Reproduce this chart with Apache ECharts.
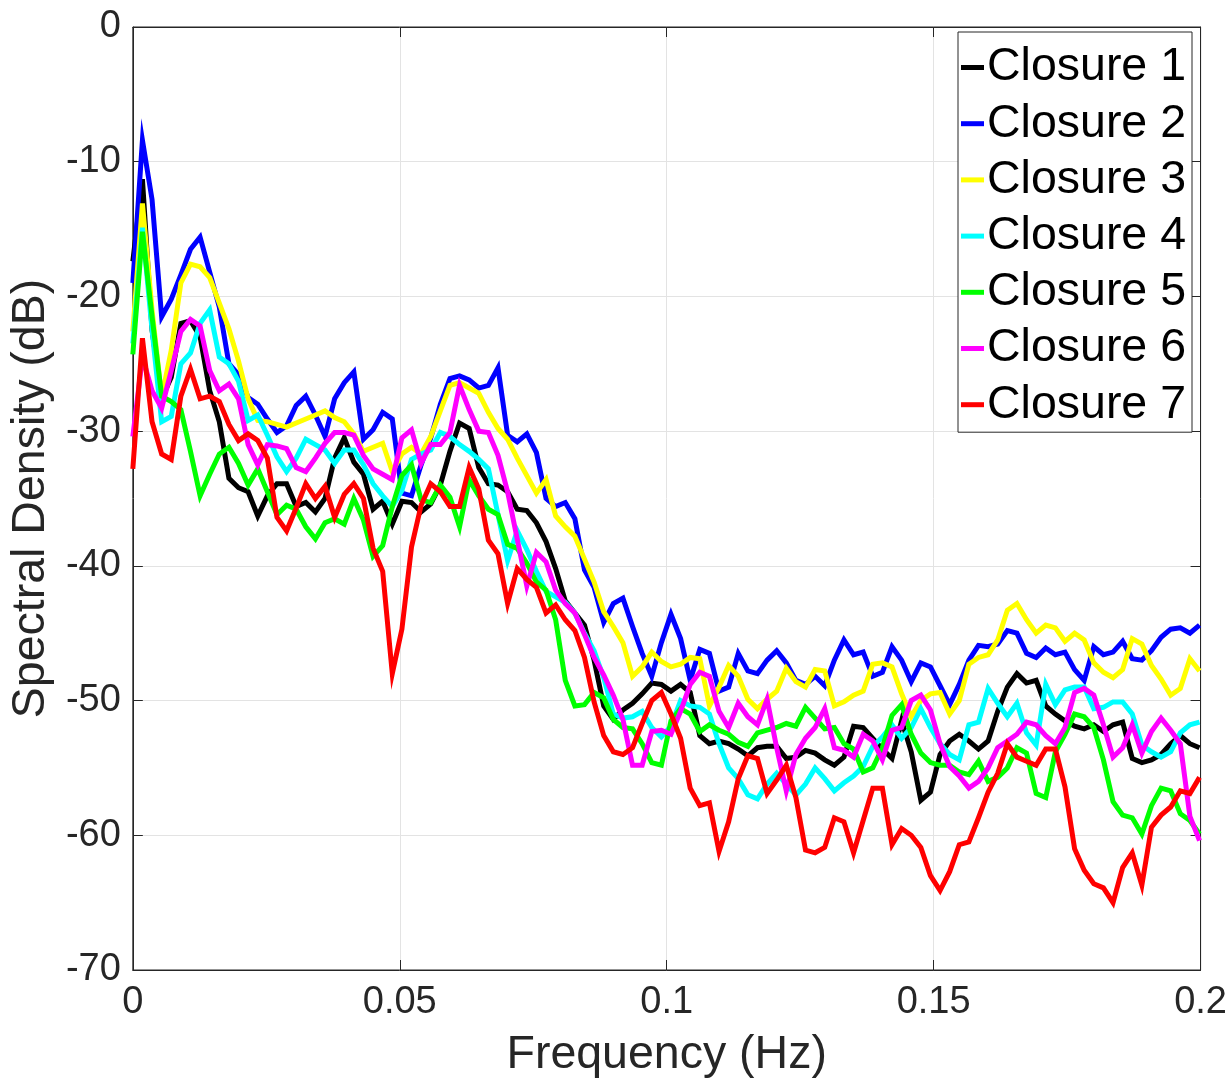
<!DOCTYPE html>
<html>
<head>
<meta charset="utf-8">
<script src="https://cdn.jsdelivr.net/npm/echarts@6/dist/echarts.min.js"></script>
<style>
html,body{margin:0;padding:0;background:#fff;}
#chart{width:1230px;height:1088px;}
</style>
</head>
<body>
<div id="chart"></div>
<script>
// Frequency grid step (Hz) of the spectral estimate
const FREQ_STEP = 0.0018;
const seriesNames = ['Closure 1','Closure 2','Closure 3','Closure 4','Closure 5','Closure 6','Closure 7'];
const seriesColors = ['#000000','#0000ff','#ffff00','#00ffff','#00ff00','#ff00ff','#ff0000'];
const xTicks = [0, 0.05, 0.1, 0.15, 0.2];
const yTicks = [-70, -60, -50, -40, -30, -20, -10, 0];

const closure1 = [
-17.4,-11.3,-22.5,-27.6,-26.0,-22.0,-21.8,-23.0,-27.0,-29.3,
-33.5,-34.2,-34.5,-36.3,-34.8,-33.9,-33.9,-35.6,-35.3,-36.0,
-35.0,-32.0,-30.5,-32.3,-33.2,-35.8,-35.2,-36.9,-35.2,-35.3,
-36.0,-35.4,-34.0,-31.5,-29.4,-29.8,-32.7,-33.9,-34.0,-34.5,
-35.8,-35.9,-36.8,-38.2,-40.2,-42.6,-43.5,-44.4,-47.0,-50.4,
-51.4,-50.7,-50.2,-49.5,-48.7,-48.8,-49.3,-48.8,-49.4,-52.6,
-53.2,-53.0,-53.2,-53.6,-54.1,-53.5,-53.4,-53.4,-54.3,-54.2,
-53.7,-53.9,-54.4,-54.8,-54.2,-51.9,-52.0,-52.8,-53.6,-54.3,
-51.5,-53.8,-57.4,-56.8,-54.0,-53.0,-52.5,-53.0,-53.6,-53.0,
-50.8,-49.0,-48.0,-48.7,-48.5,-50.4,-51.0,-51.5,-51.9,-52.1,
-51.8,-52.3,-51.8,-51.6,-54.3,-54.6,-54.4,-54.0,-53.2,-52.6,
-53.2,-53.5];
const closure2 = [
-19.0,-8.4,-12.8,-21.5,-20.2,-18.4,-16.5,-15.6,-18.2,-20.8,
-25.0,-25.8,-27.5,-28.0,-29.1,-30.1,-29.6,-28.1,-27.4,-28.8,
-30.4,-27.6,-26.4,-25.6,-30.6,-29.9,-28.6,-29.1,-34.6,-34.8,
-32.5,-30.5,-28.0,-26.1,-25.9,-26.2,-26.8,-26.6,-25.3,-30.3,
-30.8,-30.2,-31.6,-35.0,-35.6,-35.3,-36.5,-40.3,-41.6,-44.2,
-42.8,-42.4,-44.5,-46.5,-48.2,-45.7,-43.6,-45.4,-48.5,-46.2,
-46.5,-49.3,-49.0,-46.5,-47.8,-48.0,-47.0,-46.3,-47.2,-48.5,
-48.8,-48.2,-48.9,-47.0,-45.5,-46.6,-46.4,-48.2,-47.9,-46.0,
-47.0,-48.6,-47.2,-47.5,-48.9,-50.3,-48.8,-47.0,-45.9,-46.0,
-45.8,-44.8,-45.0,-46.5,-46.8,-46.1,-46.6,-46.4,-47.7,-48.5,
-46.0,-46.6,-46.4,-45.6,-46.9,-47.0,-46.3,-45.3,-44.7,-44.6,
-45.0,-44.4];
const closure3 = [
-22.6,-13.1,-21.0,-27.5,-24.0,-19.0,-17.6,-17.8,-18.6,-20.5,
-22.4,-24.8,-27.6,-29.2,-29.3,-29.5,-29.7,-29.4,-29.1,-28.8,
-28.5,-29.0,-29.3,-30.2,-31.5,-31.2,-30.9,-33.0,-31.7,-31.2,
-31.7,-30.4,-28.5,-26.6,-26.4,-26.8,-27.2,-28.6,-29.8,-30.6,
-32.0,-33.3,-34.6,-33.6,-36.3,-37.1,-37.8,-39.5,-41.2,-43.4,
-44.5,-45.7,-48.2,-47.5,-46.4,-47.1,-47.5,-47.3,-46.8,-46.9,
-50.4,-49.0,-47.4,-48.2,-49.9,-50.6,-49.9,-49.3,-47.6,-48.6,
-49.0,-47.7,-47.8,-50.4,-50.1,-49.6,-49.3,-47.3,-47.2,-47.5,
-49.5,-51.2,-50.0,-49.5,-49.4,-51.0,-50.0,-47.3,-46.8,-46.6,
-45.5,-43.3,-42.8,-44.0,-45.0,-44.4,-44.6,-45.6,-45.0,-45.5,
-47.2,-47.9,-48.3,-47.7,-45.4,-45.8,-47.4,-48.4,-49.6,-49.1,
-46.9,-47.8];
const closure4 = [
-23.5,-14.9,-22.5,-29.3,-28.9,-25.0,-24.2,-22.0,-21.0,-24.5,
-25.0,-26.3,-29.2,-28.8,-30.3,-31.9,-33.0,-32.0,-30.6,-31.0,
-31.4,-32.4,-31.4,-31.4,-32.5,-33.9,-34.8,-35.6,-34.4,-32.1,
-31.7,-31.4,-30.1,-30.4,-31.0,-31.5,-32.1,-32.8,-36.2,-39.6,
-37.4,-38.8,-40.4,-41.9,-42.3,-42.7,-43.5,-45.0,-46.3,-48.3,
-51.0,-51.3,-51.2,-50.8,-52.0,-52.7,-51.9,-50.0,-50.4,-50.5,
-51.0,-53.2,-55.0,-55.8,-57.0,-57.3,-56.2,-55.4,-56.2,-57.0,
-56.2,-55.0,-55.8,-56.7,-56.1,-55.6,-54.9,-53.4,-52.7,-51.8,
-52.8,-52.0,-50.6,-52.0,-53.2,-54.0,-54.4,-51.8,-51.6,-49.1,
-50.2,-51.2,-50.2,-52.4,-53.3,-48.8,-50.3,-49.2,-49.0,-49.0,
-50.6,-50.5,-50.1,-50.1,-51.0,-53.3,-53.8,-54.2,-53.8,-52.4,
-51.8,-51.6];
const closure5 = [
-24.3,-15.2,-21.5,-27.4,-27.8,-28.4,-31.5,-34.8,-33.2,-31.7,
-31.2,-32.4,-34.0,-32.8,-34.5,-36.2,-35.5,-35.8,-37.1,-38.0,
-36.8,-36.5,-36.9,-35.0,-36.6,-39.3,-38.5,-35.6,-33.3,-32.5,
-35.1,-35.3,-34.0,-34.9,-37.1,-33.6,-34.8,-35.8,-36.2,-38.4,
-38.7,-39.8,-41.2,-41.8,-44.0,-48.5,-50.4,-50.3,-49.4,-49.8,
-51.4,-52.0,-52.1,-53.2,-54.6,-54.8,-51.5,-50.6,-51.0,-52.3,
-51.8,-52.2,-52.5,-53.1,-53.4,-52.4,-52.2,-52.0,-51.7,-51.9,
-50.5,-51.3,-52.1,-52.0,-53.2,-53.6,-55.3,-55.0,-53.5,-51.1,
-50.3,-52.5,-53.9,-54.6,-54.8,-54.8,-55.3,-55.5,-54.5,-56.0,
-55.7,-55.0,-53.5,-53.9,-56.9,-57.2,-53.8,-52.5,-51.0,-51.2,
-52.0,-54.4,-57.5,-58.5,-58.7,-59.9,-57.8,-56.5,-56.7,-58.4,
-58.9,-59.9];
const closure6 = [
-30.4,-24.5,-27.0,-28.3,-25.5,-22.6,-21.7,-22.2,-25.5,-27.0,
-26.5,-27.6,-31.0,-32.5,-31.0,-31.1,-31.3,-32.7,-33.0,-32.0,
-30.9,-30.1,-30.1,-30.3,-31.8,-32.8,-33.2,-33.6,-30.5,-29.9,
-32.4,-31.0,-31.0,-30.1,-26.6,-28.4,-30.0,-30.1,-31.8,-34.5,
-38.0,-41.5,-39.0,-39.7,-41.8,-42.8,-43.5,-45.1,-46.8,-48.1,
-49.6,-51.4,-54.8,-54.8,-52.3,-52.2,-52.5,-50.8,-48.8,-47.9,
-48.2,-50.8,-52.0,-50.2,-51.2,-51.8,-49.9,-53.5,-56.7,-54.0,
-52.8,-52.0,-50.6,-53.5,-53.7,-54.2,-52.5,-53.0,-54.4,-52.2,
-52.0,-50.0,-49.6,-50.7,-53.2,-54.9,-55.6,-56.5,-56.0,-55.0,
-53.5,-53.0,-52.5,-51.6,-51.8,-52.6,-53.2,-52.0,-49.4,-49.1,
-49.6,-51.8,-54.2,-53.5,-51.8,-53.9,-52.3,-51.3,-52.2,-53.2,
-58.6,-60.4];
const closure7 = [
-32.8,-23.1,-29.3,-31.7,-32.1,-27.4,-25.4,-27.6,-27.4,-27.8,
-29.5,-30.7,-30.2,-30.7,-32.0,-36.4,-37.4,-35.7,-33.9,-35.0,
-34.1,-36.4,-34.7,-33.9,-35.0,-38.7,-40.4,-48.0,-44.7,-38.6,
-35.5,-33.9,-34.5,-35.6,-35.6,-32.7,-34.3,-38.1,-39.1,-42.8,
-40.2,-41.0,-41.6,-43.5,-42.9,-44.0,-44.8,-46.8,-50.1,-52.6,
-53.8,-54.0,-53.5,-51.7,-50.0,-49.4,-51.0,-52.8,-56.5,-57.8,
-57.6,-61.2,-59.0,-55.8,-54.1,-54.3,-56.9,-55.9,-54.8,-57.2,
-61.1,-61.3,-60.9,-58.7,-59.0,-61.3,-58.9,-56.5,-56.5,-60.7,
-59.5,-60.0,-60.9,-63.0,-64.1,-62.7,-60.7,-60.5,-58.7,-56.8,
-55.4,-53.2,-54.2,-54.5,-54.8,-53.6,-53.6,-56.4,-61.0,-62.6,
-63.6,-63.9,-65.0,-62.4,-61.3,-63.7,-59.4,-58.5,-57.9,-56.7,
-56.9,-55.7];

const allSeries = [closure1, closure2, closure3, closure4, closure5, closure6, closure7];
const FONT = '"Liberation Sans", Arial, Helvetica, sans-serif';
const AX = '#262626';

const chart = echarts.init(document.getElementById('chart'), null, {renderer: 'canvas'});

const fmtX = v => String(parseFloat(v.toFixed(3)));

const option = {
  backgroundColor: '#ffffff',
  animation: false,
  grid: {left: 129, right: 29, top: 27, bottom: 118, show: true, borderColor: AX, borderWidth: 1, backgroundColor: 'transparent'},
  legend: {
    data: seriesNames,
    orient: 'vertical',
    left: 958, top: 32,
    icon: 'rect',
    itemWidth: 23, itemHeight: 5,
    itemGap: 9.2,
    itemStyle: {borderWidth: 0},
    padding: [12, 6, 4, 3],
    backgroundColor: '#ffffff',
    borderColor: AX, borderWidth: 1,
    selectedMode: false,
    textStyle: {fontFamily: FONT, fontSize: 46.5, color: '#000', lineHeight: 46, padding: [0,0,0,-2]}
  },
  xAxis: [{
    type: 'value', min: xTicks[0], max: xTicks[xTicks.length-1], interval: 0.05,
    name: 'Frequency (Hz)', nameLocation: 'middle', nameGap: 62,
    nameTextStyle: {fontFamily: FONT, fontSize: 46.5, color: AX},
    axisLine: {show: true, onZero: false, lineStyle: {color: AX, width: 1}},
    axisTick: {show: true, inside: true, length: 10, lineStyle: {color: AX}},
    axisLabel: {fontFamily: FONT, fontSize: 38, color: AX, margin: 14, formatter: fmtX},
    splitLine: {show: true, lineStyle: {color: '#e3e3e3', width: 1}}
  },{
    type: 'value', position: 'top', min: xTicks[0], max: xTicks[xTicks.length-1], interval: 0.05,
    axisLine: {show: true, onZero: false, lineStyle: {color: AX}},
    axisTick: {show: true, inside: true, length: 10, lineStyle: {color: AX}},
    axisLabel: {show: false}, splitLine: {show: false}
  }],
  yAxis: [{
    type: 'value', min: yTicks[0], max: yTicks[yTicks.length-1], interval: 10,
    name: 'Spectral Density (dB)', nameLocation: 'middle', nameGap: 70,
    nameTextStyle: {fontFamily: FONT, fontSize: 46.5, color: AX},
    axisLine: {show: true, onZero: false, lineStyle: {color: AX, width: 1}},
    axisTick: {show: true, inside: true, length: 10, lineStyle: {color: AX}},
    axisLabel: {fontFamily: FONT, fontSize: 38, color: AX, margin: 12},
    splitLine: {show: true, lineStyle: {color: '#e3e3e3', width: 1}}
  },{
    type: 'value', position: 'right', min: yTicks[0], max: yTicks[yTicks.length-1], interval: 10,
    axisLine: {show: true, onZero: false, lineStyle: {color: AX}},
    axisTick: {show: true, inside: true, length: 10, lineStyle: {color: AX}},
    axisLabel: {show: false}, splitLine: {show: false}
  }],
  series: allSeries.map((vals, s) => ({
    name: seriesNames[s],
    type: 'line',
    xAxisIndex: 0, yAxisIndex: 0,
    showSymbol: false, symbol: 'none',
    clip: true,
    lineStyle: {color: seriesColors[s], width: 5, join: 'miter', cap: 'butt'},
    itemStyle: {color: seriesColors[s]},
    data: vals.map((v, i) => [i * FREQ_STEP, v])
  }))
};
chart.setOption(option);
</script>
</body>
</html>
